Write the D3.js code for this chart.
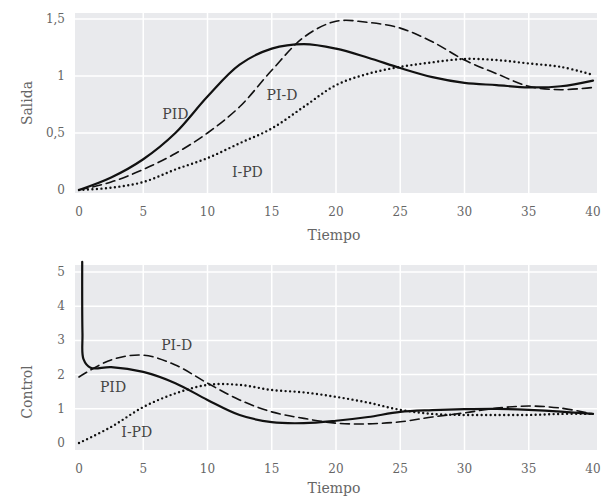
<!DOCTYPE html>
<html>
  <head>
    <title>PID, PI-D, I-PD</title>
    <meta charset="UTF-8" />
    <style>
      body { margin: 0; background: #fff; }
      text { font-family: "DejaVu Serif", serif; }
    </style>
  </head>
  <body>
    <script src="https://cdn.jsdelivr.net/npm/d3@7/dist/d3.min.js" charset="utf-8"></script>
    <script>
      // tiempo de muestreo de las curvas
      var tiempo = [0, 2.5, 5, 7.5, 10, 12.5, 15, 17.5, 20, 22.5, 25, 27.5, 30, 32.5, 35, 37.5, 40];

      // Salida (grafico superior)
      var salidaPID  = [0, 0.11, 0.27, 0.50, 0.82, 1.10, 1.24, 1.28, 1.24, 1.16, 1.07, 0.99, 0.94, 0.92, 0.90, 0.91, 0.96];
      var salidaPI_D = [0, 0.07, 0.18, 0.32, 0.50, 0.73, 1.05, 1.34, 1.48, 1.47, 1.42, 1.30, 1.14, 1.02, 0.91, 0.88, 0.90];
      var salidaI_PD = [0, 0.02, 0.07, 0.18, 0.28, 0.41, 0.54, 0.73, 0.92, 1.02, 1.08, 1.12, 1.15, 1.14, 1.11, 1.08, 1.01];

      // Control (grafico inferior)
      var controlPID_t = [0.25, 0.27, 0.35, 0.9, 2.5, 5, 7.5, 10, 12.5, 15, 17.5, 20, 22.5, 25, 27.5, 30, 32.5, 35, 37.5, 40];
      var controlPID   = [5.3, 3.2, 2.45, 2.2, 2.22, 2.08, 1.75, 1.26, 0.82, 0.61, 0.58, 0.65, 0.76, 0.91, 0.96, 0.99, 1.0, 0.97, 0.92, 0.85];
      var controlPI_D  = [1.93, 2.43, 2.57, 2.28, 1.75, 1.26, 0.91, 0.72, 0.58, 0.56, 0.62, 0.76, 0.88, 1.02, 1.08, 1.02, 0.85];
      var controlI_PD  = [0, 0.47, 1.05, 1.45, 1.70, 1.70, 1.55, 1.48, 1.35, 1.18, 0.97, 0.85, 0.82, 0.82, 0.82, 0.85, 0.85];

      var xTicks = [0, 5, 10, 15, 20, 25, 30, 35, 40];
      var salidaTicks = [0, 0.5, 1, 1.5];
      var controlTicks = [0, 1, 2, 3, 4, 5];

      var svg = d3.select("body").append("svg")
        .attr("width", 603)
        .attr("height", 499);

      var fmt = function(d) { return String(d).replace(".", ","); };

      function panel(opts) {
        var x = d3.scaleLinear().domain([0, 40]).range([79, 593]);
        var y = d3.scaleLinear().domain(opts.yDomain).range(opts.yRange);
        var g = svg.append("g");

        g.append("rect")
          .attr("x", x(0) - 4).attr("y", opts.top)
          .attr("width", x(40) - x(0) + 8).attr("height", opts.bottom - opts.top)
          .attr("fill", "#e9eaed");

        // rejilla
        g.selectAll(".vg").data(xTicks.slice(1, -1)).enter().append("line")
          .attr("x1", function(d) { return x(d); }).attr("x2", function(d) { return x(d); })
          .attr("y1", opts.top).attr("y2", opts.bottom)
          .attr("stroke", "#fff").attr("stroke-width", 1.5);
        g.selectAll(".hg").data(opts.ticks.slice(1)).enter().append("line")
          .attr("x1", x(0) - 4).attr("x2", x(40) + 4)
          .attr("y1", function(d) { return y(d); }).attr("y2", function(d) { return y(d); })
          .attr("stroke", "#fff").attr("stroke-width", 1.5);

        // ejes
        g.selectAll(".xt").data(xTicks).enter().append("text")
          .attr("x", function(d) { return x(d); })
          .attr("y", opts.bottom + 23)
          .attr("text-anchor", "middle")
          .attr("font-size", 12).attr("fill", "#666")
          .text(function(d) { return d; });
        g.selectAll(".yt").data(opts.ticks).enter().append("text")
          .attr("x", 65)
          .attr("y", function(d) { return y(d) + 4; })
          .attr("text-anchor", "end")
          .attr("font-size", 12).attr("fill", "#666")
          .text(fmt);

        g.append("text")
          .attr("transform", "translate(32," + opts.titleY + ") rotate(-90)")
          .attr("text-anchor", "middle")
          .attr("font-size", 14).attr("fill", "#666")
          .text(opts.title);
        g.append("text")
          .attr("x", 334).attr("y", opts.bottom + opts.tiempoDy)
          .attr("text-anchor", "middle")
          .attr("font-size", 14).attr("fill", "#666")
          .text("Tiempo");

        var line = d3.line()
          .x(function(d) { return x(d[0]); })
          .y(function(d) { return y(d[1]); })
          .curve(d3.curveCatmullRom.alpha(0.5));

        opts.series.forEach(function(s) {
          var pts = d3.zip(s.t, s.v);
          g.append("path")
            .attr("d", line(pts))
            .attr("fill", "none")
            .attr("stroke", "#111")
            .attr("stroke-width", s.w)
            .attr("stroke-linecap", "round")
            .attr("stroke-dasharray", s.dash);
        });

        opts.labels.forEach(function(l) {
          g.append("text")
            .attr("x", x(l.t)).attr("y", y(l.v))
            .attr("text-anchor", "middle")
            .attr("font-size", 14).attr("fill", "#444")
            .text(l.text);
        });
      }

      panel({
        yDomain: [0, 1.5], yRange: [190, 19],
        top: 13, bottom: 193, tiempoDy: 47,
        ticks: salidaTicks,
        title: "Salida", titleY: 103,
        series: [
          { t: tiempo, v: salidaPID, w: 2.2, dash: null },
          { t: tiempo, v: salidaPI_D, w: 1.6, dash: "9,5" },
          { t: tiempo, v: salidaI_PD, w: 2.4, dash: "0,4.5" }
        ],
        labels: [
          { text: "PID", t: 7.5, v: 0.62 },
          { text: "PI-D", t: 15.8, v: 0.79 },
          { text: "I-PD", t: 13.1, v: 0.11 }
        ]
      });

      panel({
        yDomain: [0, 5], yRange: [443, 272],
        top: 265, bottom: 450, tiempoDy: 43,
        ticks: controlTicks,
        title: "Control", titleY: 392,
        series: [
          { t: controlPID_t, v: controlPID, w: 2.2, dash: null },
          { t: tiempo, v: controlPI_D, w: 1.6, dash: "9,5" },
          { t: tiempo, v: controlI_PD, w: 2.4, dash: "0,4.5" }
        ],
        labels: [
          { text: "PI-D", t: 7.6, v: 2.72 },
          { text: "PID", t: 2.65, v: 1.49 },
          { text: "I-PD", t: 4.5, v: 0.18 }
        ]
      });
    </script>
  </body>
</html>
